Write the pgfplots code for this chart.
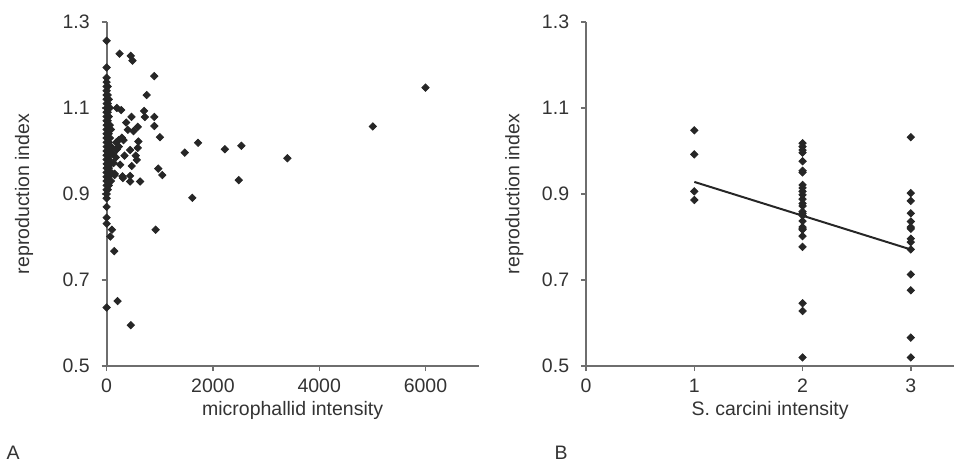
\documentclass[border=0pt]{standalone}
\usepackage{fontspec}
\setmainfont{Liberation Sans}
\usepackage{pgfplots}
\pgfplotsset{compat=1.18}
\definecolor{axgray}{RGB}{110,110,110}
\newcommand{\fs}{\fontsize{9.8}{11.5}\selectfont}
\pgfplotsset{
  myax/.style={
    scale only axis, height=173pt,
    axis x line*=bottom, axis y line*=left,
    axis line style={-, axgray, line width=0.9pt},
    tick style={axgray, line width=0.7pt},
    tick align=outside, major tick length=2.5pt,
    ymin=0.5, ymax=1.3, ytick={0.5,0.7,0.9,1.1,1.3},
    yticklabel style={/pgf/number format/fixed, /pgf/number format/fixed zerofill, /pgf/number format/precision=1, xshift=-2.5pt},
    /pgf/number format/assume math mode=true,
    xticklabel style={/pgf/number format/set thousands separator={}, yshift=-0.5pt},
    font=\fs,
    ticklabel style={font=\fs, text=black!80},
    label style={font=\fs, text=black!80},
    clip=false,
  },
  dots/.style={only marks, mark=square*, mark size=1.3pt, black!85,
    mark options={rotate=45, fill=black!85, draw=black!85}},
}
\begin{document}
\begin{tikzpicture}
\path (0,0) rectangle (477.5pt,-233pt);
\begin{axis}[myax, anchor=north west, at={(51.5pt,-11pt)}, width=187pt,
  xmin=0, xmax=7000, xtick={0,2000,4000,6000},
  xlabel={microphallid intensity}, ylabel={reproduction index},
  xlabel style={at={(axis description cs:0.5,0)}, anchor=center, yshift=-22.5pt},
  ylabel style={at={(axis description cs:0,0.5)}, anchor=center, yshift=41.5pt},
]
\addplot[dots] coordinates {
(0,1.256) (0,1.194) (0,1.17) (0,1.16) (0,1.15) (0,1.14) (0,1.13) (0,1.12) (0,1.11)
(0,1.10) (0,1.09) (0,1.08) (0,1.07) (0,1.06) (0,1.05) (0,1.04) (0,1.03) (0,1.02)
(0,1.01) (0,1.00) (0,0.99) (0,0.98) (0,0.97) (0,0.96) (0,0.95) (0,0.94) (0,0.93)
(0,0.92) (0,0.91) (0,0.90) (0,0.89) (0,0.87) (0,0.845) (0,0.831) (0,0.636)
(20,1.15) (20,1.13) (20,1.11) (20,1.09) (20,1.07) (20,1.05) (20,1.03) (20,1.01)
(20,0.99) (20,0.97) (20,0.95) (20,0.93) (20,0.91)
(40,1.12) (40,1.08) (40,1.06) (40,1.04) (40,1.02) (40,1.00) (40,0.98) (40,0.96) (40,0.94) (40,0.92)
(60,1.10) (60,1.06) (60,1.03) (60,0.99) (60,0.95)
(80,1.05) (80,1.01) (80,0.97) (80,0.93)
(243,1.226) (455,1.221) (486,1.210) (897,1.174) (754,1.130) (704,1.093)
(193,1.100) (274,1.095) (468,1.079) (720,1.079) (897,1.079)
(368,1.066) (897,1.058) (586,1.056) (399,1.049) (505,1.046)
(1003,1.032) (287,1.031) (224,1.025) (318,1.025) (598,1.022) (1720,1.019)
(180,1.020) (230,1.010) (586,1.007) (1470,0.996) (442,1.002) (100,1.008) (193,1.004)
(548,0.989) (336,0.989) (125,0.994) (174,0.985) (567,0.979) (473,0.965) (256,0.968)
(130,0.972) (972,0.959) (1047,0.944) (100,0.948) (150,0.947) (299,0.941) (442,0.942)
(150,0.944) (305,0.937) (442,0.929) (630,0.929) (1613,0.891)
(100,0.817) (922,0.817) (69,0.801) (143,0.767) (206,0.651) (455,0.595)
(6000,1.147) (5009,1.057) (3402,0.983) (2536,1.012) (2224,1.004) (2486,0.932)
};
\end{axis}
\begin{axis}[myax, anchor=north west, at={(292.5pt,-11pt)}, width=185pt,
  xmin=0, xmax=3.4, xtick={0,1,2,3},
  xlabel={S. carcini intensity}, ylabel={reproduction index},
  xlabel style={at={(axis description cs:0.5,0)}, anchor=center, yshift=-22.5pt},
  ylabel style={at={(axis description cs:0,0.5)}, anchor=center, yshift=36pt},
]
\addplot[black!85, line width=1pt, forget plot] coordinates {(1,0.928) (3,0.771)};
\addplot[dots] coordinates {
(1,1.048) (1,0.992) (1,0.906) (1,0.886)
(2,1.018) (2,1.010) (2,1.002) (2,0.996) (2,0.976) (2,0.954) (2,0.950) (2,0.921)
(2,0.914) (2,0.906) (2,0.898) (2,0.888) (2,0.878) (2,0.872) (2,0.859) (2,0.855)
(2,0.850) (2,0.837) (2,0.823) (2,0.819) (2,0.817) (2,0.802) (2,0.777) (2,0.646)
(2,0.628) (2,0.520)
(3,1.032) (3,0.902) (3,0.884) (3,0.855) (3,0.836) (3,0.823) (3,0.819) (3,0.796)
(3,0.788) (3,0.771) (3,0.713) (3,0.676) (3,0.566) (3,0.520)
};
\end{axis}
\node[font=\fs, text=black!80] at (4.5pt,-227.5pt) {A};
\node[font=\fs, text=black!80] at (280pt,-227.5pt) {B};
\end{tikzpicture}
\end{document}
